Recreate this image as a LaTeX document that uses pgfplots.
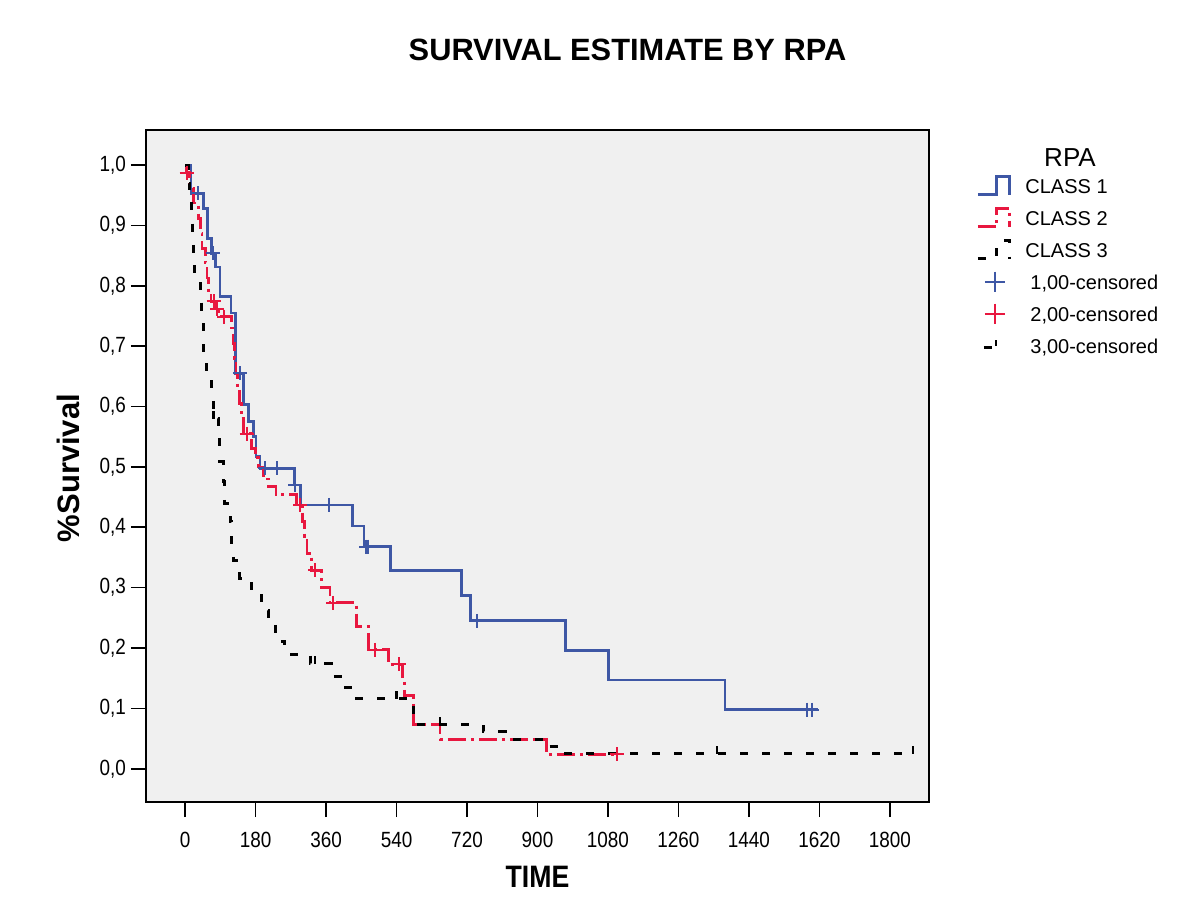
\documentclass[border=0pt]{standalone}
\usepackage{pgfplots}
\pgfplotsset{compat=1.18}
\usepackage{fontspec}
\setmainfont{Liberation Sans}
\newfontfamily\narrowfont{Liberation Sans}[FakeStretch=0.86]
\definecolor{c1}{RGB}{62,87,165}
\definecolor{c2}{RGB}{232,23,63}
\definecolor{bgc}{RGB}{240,240,240}
\pgfdeclareplotmark{ctick}{%
  \pgfpathmoveto{\pgfqpoint{0pt}{0pt}}%
  \pgfpathlineto{\pgfqpoint{0pt}{\pgfplotmarksize}}%
  \pgfusepathqstroke}
\pgfplotsset{
  steplegend/.style={legend image code/.code={\draw[##1] (0pt,-4.5pt) -- (9.5pt,-4.5pt) -- (9.5pt,4.5pt) -- (16pt,4.5pt) -- (16pt,-4.5pt);}},
  pluslegend/.style={legend image code/.code={\draw[##1,mark size=5pt] plot coordinates {(8.5pt,0pt)};}},
  ticklegend/.style={legend image code/.code={\draw[black,line width=1.4pt] (3pt,-1pt) -- (7pt,-1pt); \draw[black,line width=1.2pt] (9pt,0pt) -- (9pt,3pt);}},
}

\pgfplotstableread{
x y
0 1.0
15 0.953
47 0.928
57 0.878
68 0.854
78 0.831
89 0.782
117 0.755
128 0.655
149 0.603
162 0.575
174 0.55
181 0.517
191 0.498
279 0.47
294 0.437
428 0.402
457 0.368
525 0.328
705 0.287
729 0.245
972 0.196
1082 0.147
1379 0.098
1616 0.098
}\classone

\pgfplotstableread{
x y
0 1.0
3 0.987
12 0.962
22 0.937
34 0.912
40 0.887
43 0.862
51 0.838
56 0.813
60 0.788
66 0.774
77 0.762
85 0.749
119 0.73
122 0.705
126 0.68
130 0.655
134 0.63
138 0.605
143 0.58
150 0.555
170 0.53
179 0.515
187 0.5
200 0.48
212 0.467
232 0.454
285 0.437
300 0.41
305 0.385
311 0.357
323 0.329
349 0.30
370 0.275
438 0.236
468 0.197
519 0.173
556 0.147
560 0.122
583 0.073
651 0.049
923 0.024
1102 0.024
}\classtwo

\pgfplotstableread{
x y
0 1.0
8 0.97
12 0.956
17 0.922
19 0.884
21 0.853
25 0.815
38 0.785
42 0.749
46 0.71
48 0.669
55 0.644
68 0.611
72 0.58
85 0.545
89 0.509
97 0.476
100 0.44
115 0.41
119 0.37
123 0.345
140 0.315
170 0.293
196 0.263
213 0.241
230 0.211
255 0.19
320 0.174
374 0.153
402 0.134
430 0.116
584 0.073
761 0.061
817 0.049
917 0.037
962 0.025
1859 0.025
}\classthree

\pgfplotstableread{
x y
34 0.953
72 0.854
140 0.655
204 0.498
234 0.498
281 0.47
368 0.437
463 0.368
468 0.368
745 0.245
1588 0.098
1601 0.098
}\censone

\pgfplotstableread{
x y
4 0.987
73 0.774
81 0.762
100 0.749
157 0.555
294 0.437
332 0.329
378 0.275
485 0.197
545 0.173
1102 0.024
}\censtwo

\pgfplotstableread{
x y
72 0.58
332 0.174
540 0.116
651 0.073
1358 0.025
1859 0.025
}\censthree

\begin{document}
\begin{tikzpicture}[x=1pt,y=1pt]
\path[use as bounding box] (0,0) rectangle (600,459);
\node[font=\bfseries\fontsize{15.4}{18}\selectfont] at (313.75,434) {SURVIVAL ESTIMATE BY RPA};
\node[font=\fontsize{13}{15}\selectfont] at (535,380) {RPA};
\begin{axis}[
  at={(73pt,58pt)}, anchor=south west,
  scale only axis, width=391.5pt, height=336pt,
  xmin=-100, xmax=1900, ymin=-0.055, ymax=1.058,
  axis background/.style={fill=bgc},
  axis line style={line width=0.8pt},
  tick style={black, line width=0.8pt},
  major tick length=7.5pt,
  tick align=outside, tick pos=left,
  xtick={0,180,360,540,720,900,1080,1260,1440,1620,1800},
  xticklabels={0,180,360,540,720,900,1080,1260,1440,1620,1800},
  ytick={0,0.1,0.2,0.3,0.4,0.5,0.6,0.7,0.8,0.9,1.0},
  yticklabels={{0,0},{0,1},{0,2},{0,3},{0,4},{0,5},{0,6},{0,7},{0,8},{0,9},{1,0}},
  ticklabel style={font=\narrowfont\fontsize{11}{13}\selectfont},
  xticklabel shift=4pt,
  yticklabel shift=-1pt,
  xlabel={TIME}, ylabel={\%Survival},
  xlabel style={font=\narrowfont\bfseries\fontsize{15.5}{18}\selectfont, at={(axis description cs:0.5,-0.1116)}, anchor=center},
  ylabel style={font=\bfseries\fontsize{15.5}{18}\selectfont, at={(axis description cs:-0.0996,0.497)}, anchor=center},
  legend style={draw=none, fill=none, at={(axis description cs:1.06,0.9345)}, anchor=north west,
    inner sep=0pt, row sep=4.7pt, column sep=5pt,
    font=\fontsize{10}{12}\selectfont,
    nodes={inner sep=2pt, text height=7.3pt, text depth=0pt}},
  legend cell align=left,
]
\addplot[c1, line width=1.4pt, const plot, steplegend] table {\classone};
\addlegendentry{CLASS 1}
\addplot[c2, line width=1.4pt, const plot, dash pattern=on 9pt off 2.5pt on 1.5pt off 2.5pt, steplegend] table {\classtwo};
\addlegendentry{CLASS 2}
\addplot[black, line width=1.5pt, const plot, dash pattern=on 4pt off 7pt, steplegend] table {\classthree};
\addlegendentry{CLASS 3}
\addplot[c1, only marks, mark=+, mark size=3.5pt, line width=1pt, pluslegend] table {\censone};
\addlegendentry{\hspace{2.5pt}1,00-censored}
\addplot[c2, only marks, mark=+, mark size=3.5pt, line width=1pt, pluslegend] table {\censtwo};
\addlegendentry{\hspace{2.5pt}2,00-censored}
\addplot[black, only marks, mark=ctick, mark size=4pt, line width=1.2pt, ticklegend] table {\censthree};
\addlegendentry{\hspace{2.5pt}3,00-censored}
\end{axis}
\end{tikzpicture}
\end{document}
